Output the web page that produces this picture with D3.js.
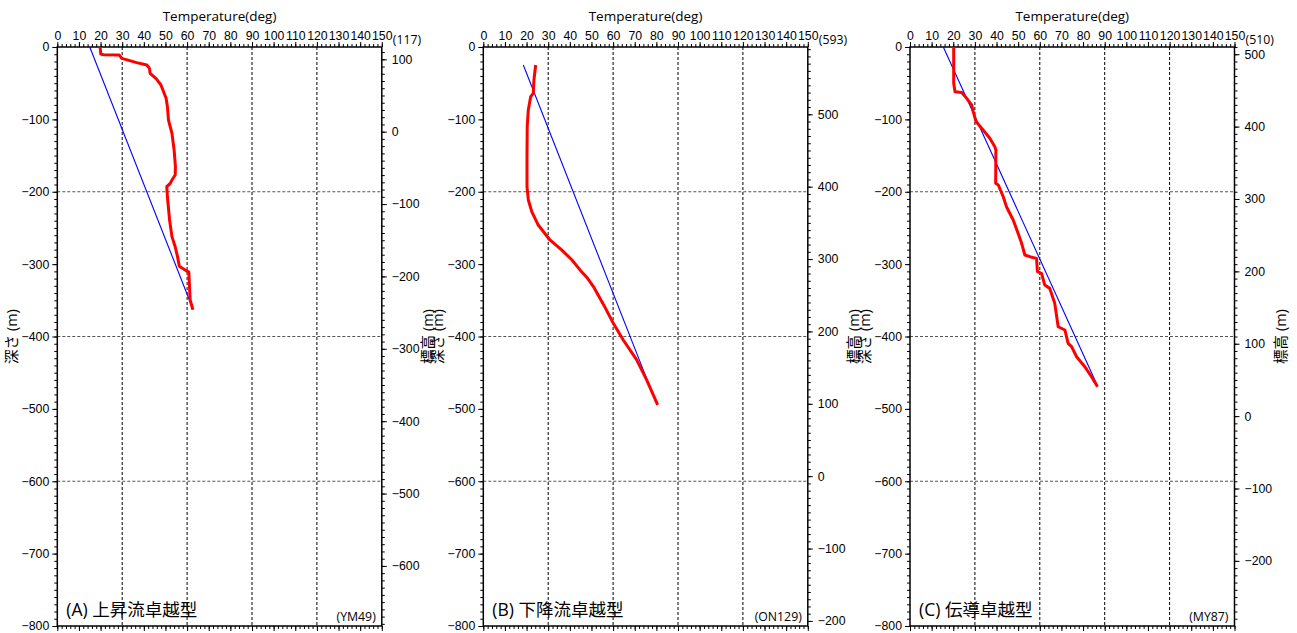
<!DOCTYPE html>
<html>
<head>
<meta charset="utf-8">
<script src="https://cdn.jsdelivr.net/npm/d3@7"></script>
<style>
  body { margin: 0; background: #fff; }
  svg { display: block; font-family: "Open Sans", "Noto Sans CJK JP", sans-serif; }
  .axis path, .axis line { stroke: #000; }
  .axis text { font-size: 12.3px; fill: #000; }
</style>
</head>
<body>
<div id="chart"></div>
<script>
// ---- data ----
const tempTicks = d3.range(0, 151, 10);
const depthTicks = d3.range(0, -801, -100);
const gridTemps = [30, 60, 90, 120];
const gridDepths = [-200, -400, -600];

const panelNames = ['(A) 上昇流卓越型', '(B) 下降流卓越型', '(C) 伝導卓越型'];
const wellIds = ['(YM49)', '(ON129)', '(MY87)'];
const wellElev = [117, 593, 510];   // elevation at depth 0 (m)

// [temperature, depth]
const redA = [[19.8,0],[20.1,-9.7],[21.3,-10.6],[28.6,-11],[29.8,-15.7],[36.7,-21.6],[41.4,-24.9],
  [42.6,-29.5],[42.9,-36.4],[45.7,-43.8],[47.9,-52.5],[50.3,-70.9],[50.9,-82.5],[51.4,-100.9],
  [53.0,-119.3],[54.0,-142.3],[54.6,-165.3],[54.5,-176.9],[53.0,-183.8],[52.2,-188.4],[50.6,-193],
  [50.9,-206.9],[51.9,-239],[53.0,-262],[54.5,-276],[55.6,-290],[56.4,-303],[59.1,-308],[60.8,-311],
  [61.4,-349.6],[62.7,-363]];
const blueA = [[15,0],[62.7,-362]];

const redB = [[24.2,-24.9],[23.4,-45.6],[23.1,-64],[21.9,-68.6],[20.8,-87],[20.3,-110],[20.2,-151.5],
  [20.2,-193],[20.8,-211],[22.4,-227.5],[25.4,-246],[30.8,-266.6],[36.2,-280.4],[40.9,-294],
  [44.7,-308],[47.8,-318],[50.9,-331],[55.6,-356],[60.1,-381.8],[64.7,-404.8],[70.9,-432.4],
  [75.5,-460],[80.6,-494.5]];
const blueB = [[18.5,-24.9],[80.2,-493.8]];

const redC = [[20.2,0],[20.2,-50],[20.8,-61.7],[23.9,-63],[26.2,-71],[28.5,-80],[29.2,-89],[30.5,-103],
  [33.8,-114.7],[36.9,-126],[39.2,-137.8],[39.7,-142],[39.6,-188.4],[40.8,-190.7],[43.1,-206.9],
  [44.6,-220.7],[47.7,-239],[50.0,-257.6],[51.6,-271.3],[53.1,-287.4],[55.4,-289.7],[58.5,-292],
  [58.9,-310.5],[60.8,-312.7],[62.3,-329],[64.6,-333.5],[66.9,-354],[68.5,-386.5],[71.6,-391],
  [73.1,-409.5],[74.7,-414],[77.0,-428],[80.8,-441.7],[83.9,-455.6],[86.7,-469.4]];
const blueC = [[15.4,0],[86.5,-467]];

const reds = [redA, redB, redC];
const blues = [blueA, blueB, blueC];

// ---- layout ----
const W = 1297, H = 633;
const plotLefts = [57.3, 483.3, 910];
const plotW = 324.5;
const plotTop = 47, plotBottom = 626;

const svg = d3.select('#chart').append('svg')
  .attr('width', W).attr('height', H);

const fmt = d3.format('d');

plotLefts.forEach((left, i) => {
  const x = d3.scaleLinear().domain([0, 150]).range([left, left + plotW]);
  const y = d3.scaleLinear().domain([0, -800]).range([plotTop, plotBottom]);
  const e0 = wellElev[i];
  const yE = d3.scaleLinear().domain([e0, e0 - 800]).range([plotTop, plotBottom]);
  const right = left + plotW;
  const g = svg.append('g');

  // grid
  g.selectAll('.vgrid').data(gridTemps).join('line')
    .attr('x1', d => x(d)).attr('x2', d => x(d))
    .attr('y1', plotTop).attr('y2', plotBottom)
    .attr('stroke', '#000').attr('stroke-width', 1).attr('stroke-dasharray', '3,2');
  g.selectAll('.hgrid').data(gridDepths).join('line')
    .attr('x1', left).attr('x2', right)
    .attr('y1', d => y(d)).attr('y2', d => y(d))
    .attr('stroke', '#555').attr('stroke-width', 1.2).attr('stroke-dasharray', '3,2');

  // frame
  g.append('rect').attr('x', left).attr('y', plotTop)
    .attr('width', plotW).attr('height', plotBottom - plotTop)
    .attr('fill', 'none').attr('stroke', '#000').attr('stroke-width', 1.5);

  // top axis
  g.append('g').attr('class', 'axis').attr('transform', `translate(0,${plotTop})`)
    .call(d3.axisTop(x).tickValues(d3.range(0, 151, 2)).tickSize(3).tickFormat(''))
    .call(a => a.select('.domain').remove());
  g.append('g').attr('class', 'axis').attr('transform', `translate(0,${plotTop})`)
    .call(d3.axisTop(x).tickValues(tempTicks).tickSize(5).tickPadding(2).tickFormat(fmt))
    .call(a => a.select('.domain').remove());
  // bottom axis
  g.append('g').attr('class', 'axis').attr('transform', `translate(0,${plotBottom})`)
    .call(d3.axisBottom(x).tickValues(d3.range(0, 151, 2)).tickSize(3).tickFormat(''))
    .call(a => a.select('.domain').remove());
  g.append('g').attr('class', 'axis').attr('transform', `translate(0,${plotBottom})`)
    .call(d3.axisBottom(x).tickValues(tempTicks).tickSize(5).tickFormat(''))
    .call(a => a.select('.domain').remove());

  // left axis
  g.append('g').attr('class', 'axis').attr('transform', `translate(${left},0)`)
    .call(d3.axisLeft(y).tickValues(d3.range(0, -801, -10)).tickSize(3).tickFormat(''))
    .call(a => a.select('.domain').remove());
  g.append('g').attr('class', 'axis').attr('transform', `translate(${left},0)`)
    .call(d3.axisLeft(y).tickValues(depthTicks).tickSize(5).tickPadding(3).tickFormat(fmt))
    .call(a => a.select('.domain').remove());

  // right axis (elevation)
  const eMin = e0 - 800;
  const eMinor = d3.range(Math.floor(e0 / 10) * 10, eMin, -10);
  const eMajor = d3.range(Math.floor(e0 / 100) * 100, eMin, -100);
  g.append('g').attr('class', 'axis').attr('transform', `translate(${right},0)`)
    .call(d3.axisRight(yE).tickValues(eMinor).tickSize(3).tickFormat(''))
    .call(a => a.select('.domain').remove());
  g.append('g').attr('class', 'axis').attr('transform', `translate(${right},0)`)
    .call(d3.axisRight(yE).tickValues(eMajor).tickSize(5).tickPadding(5).tickFormat(fmt))
    .call(a => a.select('.domain').remove());
  g.append('text').attr('x', right + 11).attr('y', plotTop - 3)
    .attr('font-size', 12.3).text(`(${e0})`);

  // titles
  g.append('text').attr('x', (left + right) / 2).attr('y', 21)
    .attr('text-anchor', 'middle').attr('font-size', 13.5).text('Temperature(deg)');
  g.append('text')
    .attr('transform', `translate(${left - 40},${(plotTop + plotBottom) / 2}) rotate(-90)`)
    .attr('text-anchor', 'middle').attr('font-size', 14.5).text('深さ (m)');
  g.append('text')
    .attr('transform', `translate(${right + 51},${(plotTop + plotBottom) / 2}) rotate(-90)`)
    .attr('text-anchor', 'middle').attr('font-size', 14.5).text('標高 (m)');

  // lines
  const line = d3.line().x(d => x(d[0])).y(d => y(d[1]));
  g.append('path').datum(blues[i]).attr('d', line)
    .attr('fill', 'none').attr('stroke', '#0000ff').attr('stroke-width', 1.1);
  g.append('path').datum(reds[i]).attr('d', line)
    .attr('fill', 'none').attr('stroke', '#ff0000').attr('stroke-width', 3)
    .attr('stroke-linejoin', 'round');

  // annotations
  g.append('text').attr('x', left + 9).attr('y', plotBottom - 10)
    .attr('font-size', 17.5).text(panelNames[i]);
  g.append('text').attr('x', right - 6).attr('y', plotBottom - 5)
    .attr('text-anchor', 'end').attr('font-size', 12.3).text(wellIds[i]);
});
</script>
</body>
</html>
